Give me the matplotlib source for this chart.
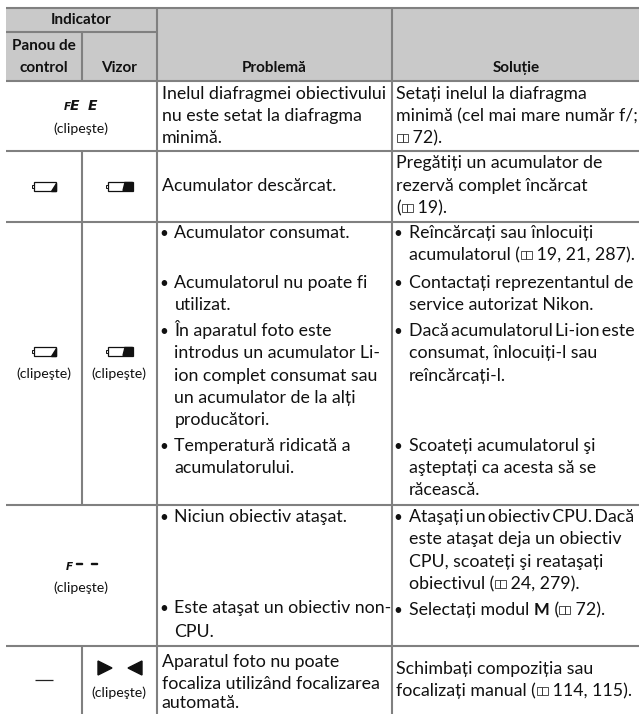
import matplotlib
matplotlib.use("Agg")
import matplotlib.pyplot as plt
from matplotlib.patches import Rectangle, Polygon

BODY_FONT = ["Lato", "DejaVu Sans"]
BODY_SIZE = 12.8

# text of the table, "@" stands for the little book symbol, "*" marks a bullet line
# a few lines are set tight in the original, those use thin spaces
PROBLEM_LINES = [
    "Inelul diafragmei obiectivului", "nu este setat la diafragma", "minimă.",
    "Acumulator descărcat.",
    "*Acumulator consumat.",
    "*Acumulatorul nu poate fi", "utilizat.",
    "*În aparatul foto este", "introdus un acumulator Li-", "ion complet consumat sau",
    "un acumulator de la alți", "producători.",
    "*Temperatură ridicată a", "acumulatorului.",
    "*Niciun obiectiv ataşat.",
    "*Este ataşat un obiectiv non-", "CPU.",
    "Aparatul foto nu poate", "focaliza utilizând focalizarea", "automată.",
]
PROBLEM_Y = [99, 121, 143, 191, 238, 288, 310, 336, 358, 381, 403, 425, 451, 473,
             522, 613, 637, 667, 689, 708]
PROBLEM_INDENT = [0, 0, 0, 0, 0, 0, 1, 0, 1, 1, 1, 1, 0, 1, 0, 0, 1, 0, 0, 0]

SOLUTION_LINES = [
    "Setați inelul la diafragma", "minimă (cel mai mare număr f/;", "@ 72).",
    "Pregătiți un acumulator de", "rezervă complet încărcat", "(@ 19).",
    "*Reîncărcați sau înlocuiți", "acumulatorul (@ 19, 21, 287).",
    "*Contactați reprezentantul de", "service autorizat Nikon.",
    "*Dacă\u2009acumulatorul\u2009Li-ion\u2009este", "consumat, înlocuiți-l sau", "reîncărcați-l.",
    "*Scoateți acumulatorul şi", "aşteptați ca acesta să se", "răcească.",
    "*Ataşați\u2009un\u2009obiectiv\u2009CPU.\u2009Dacă", "este ataşat deja un obiectiv",
    "CPU, scoateți şi reataşați", "obiectivul (@ 24, 279).",
    "*Selectați modul M (@ 72).",
    "Schimbați compoziția sau", "focalizați manual (@ 114, 115).",
]
SOLUTION_Y = [99, 121, 143, 168, 191, 213, 238, 260, 288, 310, 336, 358, 381,
              451, 473, 495, 522, 544, 567, 589, 615, 674, 696]
SOLUTION_INDENT = [0, 0, 0, 0, 0, 0, 0, 1, 0, 1, 0, 1, 1, 0, 1, 1, 0, 1, 1, 1, 0, 0, 0]

BLINK = "(clipeşte)"
BLINK_X = [81, 44, 119, 81, 119]
BLINK_Y = [133, 378, 378, 592, 697]

LINE = "#808080"
HEAD = "#c9c9c9"
INK = "#111111"

fig = plt.figure(figsize=(6.39, 7.14), dpi=100)
ax = fig.add_axes([0, 0, 1, 1])
ax.set_xlim(0, 639)
ax.set_ylim(714, 0)
ax.axis("off")

ax.add_patch(Rectangle((6, 7), 633, 73, facecolor=HEAD, edgecolor="none"))


def hline(y, x0=6, x1=639):
    ax.plot([x0, x1], [y, y], color=LINE, lw=1.5, solid_capstyle="butt")


def vline(x, y0, y1):
    ax.plot([x, x], [y0, y1], color=LINE, lw=1.5, solid_capstyle="butt")


hline(7.5)
hline(31.5, 6, 157)
for y in [80.5, 151, 221.5, 504.5, 645.5]:
    hline(y)
vline(157, 7, 714)
vline(392, 7, 714)
vline(82, 31, 80)
vline(82, 151, 505)
vline(82, 645, 714)

# header
head_kw = dict(family=BODY_FONT, fontsize=11, fontweight="bold", color=INK,
               ha="center", va="baseline")
ax.text(81.5, 24, "Indicator", **head_kw)
ax.text(44, 50, "Panou de", **head_kw)
ax.text(44, 72, "control", **head_kw)
ax.text(119, 72, "Vizor", **head_kw)
ax.text(274, 72, "Problemă", **head_kw)
ax.text(516, 72, "Soluție", **head_kw)


def book(x, y):
    # small open book symbol, 11 px wide
    for dx in (0.5, 6):
        ax.add_patch(Rectangle((x + dx, y - 9), 5.5, 8, fill=False, edgecolor="#333333", lw=0.6))
    return x + 12


def put(x, y, s, renderer, weight="normal", size=BODY_SIZE):
    if not s:
        return x
    ax.text(x, y, s, family=BODY_FONT, fontsize=size, color=INK,
            fontweight=weight, va="baseline", ha="left")
    # trailing spaces are not measured, so pad with a bar
    bar = ax.text(0, 0, s + "|", family=BODY_FONT, fontsize=size, fontweight=weight)
    only = ax.text(0, 0, "|", family=BODY_FONT, fontsize=size, fontweight=weight)
    w = bar.get_window_extent(renderer).width - only.get_window_extent(renderer).width
    bar.remove()
    only.remove()
    return x + w


def draw_line(x, y, line):
    renderer = fig.canvas.get_renderer()
    parts = line.split("@")
    for i, part in enumerate(parts):
        if i > 0:
            x = book(x, y)
        if "modul M" in part:
            # bold M in the middle of the line
            before, after = part.split("M")
            x = put(x, y, before, renderer)
            x = put(x, y, "M", renderer, weight="bold", size=12)
            part = after
        x = put(x, y, part, renderer)


def column(lines, ys, indents, x_text, x_bullet, x_indent):
    for line, y, ind in zip(lines, ys, indents):
        if line.startswith("*"):
            ax.text(x_bullet, y, "•", family=BODY_FONT, fontsize=11, color=INK,
                    ha="center", va="baseline")
            draw_line(x_indent, y, line[1:])
        elif ind:
            draw_line(x_indent, y, line)
        else:
            draw_line(x_text, y, line)


column(PROBLEM_LINES, PROBLEM_Y, PROBLEM_INDENT, 161.5, 163.5, 174.5)
column(SOLUTION_LINES, SOLUTION_Y, SOLUTION_INDENT, 396.5, 398, 409)

# indicator column
for x, y in zip(BLINK_X, BLINK_Y):
    ax.text(x, y, BLINK, family=BODY_FONT, fontsize=10.2, color=INK,
            ha="center", va="baseline")


def panel_battery(y):
    ax.add_patch(Rectangle((34, y), 22, 9.5, fill=False, edgecolor=INK, lw=0.9))
    ax.add_patch(Rectangle((31.5, y + 3), 2.5, 3.5, fill=False, edgecolor=INK, lw=0.7))
    ax.add_patch(Polygon([[50.5, y + 9], [55.5, y + 9], [55.5, y + 1]], color=INK))


def finder_battery(y):
    ax.add_patch(Rectangle((108, y), 24.5, 9.5, fill=False, edgecolor=INK, lw=0.9))
    ax.add_patch(Rectangle((106, y + 3), 2, 3.5, fill=False, edgecolor=INK, lw=0.7))
    ax.add_patch(Polygon([[123, y + 9], [125, y + 1], [132.5, y + 1], [132.5, y + 9]], color=INK))


for y in [181.5, 346.5]:
    panel_battery(y)
    finder_battery(y)

seg_kw = dict(family="DejaVu Sans", fontweight="bold", fontstyle="italic", color=INK,
              va="baseline", ha="left")
ax.text(64, 110, "F", fontsize=7.5, **seg_kw)
ax.text(70, 110, "E", fontsize=10, **seg_kw)
ax.text(88, 110, "E", fontsize=10, **seg_kw)
ax.text(66, 569.5, "F", fontsize=7.5, **seg_kw)
ax.add_patch(Rectangle((76, 562.5), 6, 1.6, color=INK))
ax.add_patch(Rectangle((91, 562.5), 6, 1.6, color=INK))

ax.add_patch(Polygon([[98, 661], [112, 668], [98, 675]], color=INK))
ax.add_patch(Polygon([[142, 661], [128, 668], [142, 675]], color=INK))
ax.plot([35, 53], [680, 680], color="#222222", lw=0.9, solid_capstyle="butt")

fig.savefig("out.png", dpi=100)
